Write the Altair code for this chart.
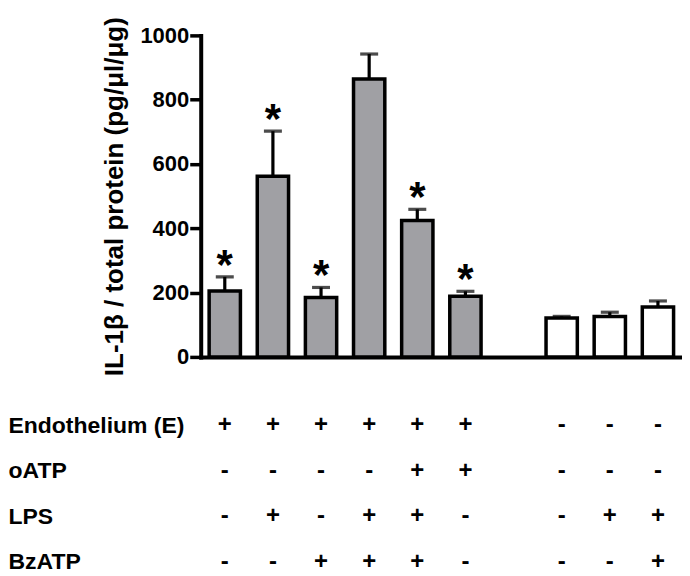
import altair as alt
import pandas as pd

# ---- data ----
categories = ["c1", "c2", "c3", "c4", "c5", "c6", "gap", "c7", "c8", "c9"]
bar_cats = ["c1", "c2", "c3", "c4", "c5", "c6", "c7", "c8", "c9"]
values = [205, 562, 185, 864, 424, 189, 121, 126, 155]
errors = [44, 140, 31, 78, 35, 15, 5, 13, 19]
groups = ["gray", "gray", "gray", "gray", "gray", "gray", "white", "white", "white"]
stars = [True, True, True, False, True, True, False, False, False]

row_names = ["Endothelium (E)", "oATP", "LPS", "BzATP"]
endothelium = ["+", "+", "+", "+", "+", "+", "-", "-", "-"]
oatp = ["-", "-", "-", "-", "+", "+", "-", "-", "-"]
lps = ["-", "+", "-", "+", "+", "-", "-", "+", "+"]
bzatp = ["-", "-", "+", "+", "+", "-", "-", "-", "+"]

FONT = "Liberation Sans"

bars_df = pd.DataFrame({"cat": bar_cats, "value": values, "err": errors,
                        "group": groups, "star": stars})

rows = []
for name, signs in zip(row_names, [endothelium, oatp, lps, bzatp]):
    for c, s in zip(bar_cats, signs):
        rows.append({"row": name, "cat": c, "sign": s})
table_df = pd.DataFrame(rows)

W = 482
H = 322

xband = alt.Scale(domain=categories, paddingInner=0.35, paddingOuter=0.175)

base = alt.Chart(bars_df).transform_calculate(upper="datum.value + datum.err")

x_enc = alt.X("cat:N", scale=xband,
              axis=alt.Axis(title=None, labels=False, ticks=False, domain=True,
                            domainColor="black", domainWidth=4, domainCap="square"))
y_scale = alt.Scale(domain=[0, 1000], nice=False)

bars = base.mark_bar(stroke="black", strokeWidth=3.5).encode(
    x=x_enc,
    y=alt.Y("value:Q", scale=y_scale,
            axis=alt.Axis(
                title="IL-1\u03b2 / total protein (pg/\u03bcl/\u03bcg)",
                titleFont=FONT, titleFontSize=26, titleFontWeight="bold",
                titleColor="black", titlePadding=12,
                values=list(range(0, 1001, 100)),
                format="d",
                labelExpr="datum.value % 200 === 0 ? datum.label : ''",
                labelFont=FONT, labelFontSize=22, labelFontWeight="bold",
                labelColor="black", labelPadding=1,
                tickSize={"condition": {"test": "datum.value % 200 === 0", "value": 11}, "value": 6},
                tickWidth=3.5, tickColor="black",
                domainColor="black", domainWidth=4, domainCap="square",
                grid=False)),
    fill=alt.Fill("group:N", scale=alt.Scale(domain=["gray", "white"],
                                             range=["#a0a0a4", "#ffffff"]),
                  legend=None),
)

err_rule = base.mark_rule(color="black", strokeWidth=3.2).encode(
    x=alt.X("cat:N", scale=xband), y=alt.Y("value:Q", scale=y_scale), y2="upper:Q")

caps = base.mark_tick(color="black", thickness=3.2, size=18, orient="horizontal").encode(
    x=alt.X("cat:N", scale=xband), y=alt.Y("upper:Q", scale=y_scale))

star_txt = base.transform_filter("datum.star").mark_text(
    text="*", font=FONT, fontSize=42, fontWeight="bold", color="black",
    baseline="alphabetic", dy=2).encode(
    x=alt.X("cat:N", scale=xband), y=alt.Y("upper:Q", scale=y_scale))

top = alt.layer(err_rule, caps, bars, star_txt).properties(width=W, height=H)

table = alt.Chart(table_df).mark_text(
    font=FONT, fontSize=24, fontWeight="bold", color="black", baseline="middle").encode(
    x=alt.X("cat:N", scale=alt.Scale(type="point", domain=categories, padding=0.5), axis=None),
    y=alt.Y("row:N", sort=row_names, scale=alt.Scale(type="point", padding=0.1),
            axis=alt.Axis(title=None, ticks=False, domain=False, grid=False,
                          labelAlign="left", labelBaseline="middle",
                          labelPadding=193, labelFont=FONT, labelFontSize=23,
                          labelFontWeight="bold", labelColor="black",
                          labelLimit=0, labelOverlap=False, labelFlush=False)),
    text="sign:N",
).properties(width=W, height=146)

chart = alt.vconcat(top, table, spacing=63.7, bounds="flush").properties(
    padding={"left": 0, "top": 8, "right": 0, "bottom": 0}
).configure_view(stroke=None)

chart.save("out.html", embed_options={"renderer": "svg", "actions": False})
